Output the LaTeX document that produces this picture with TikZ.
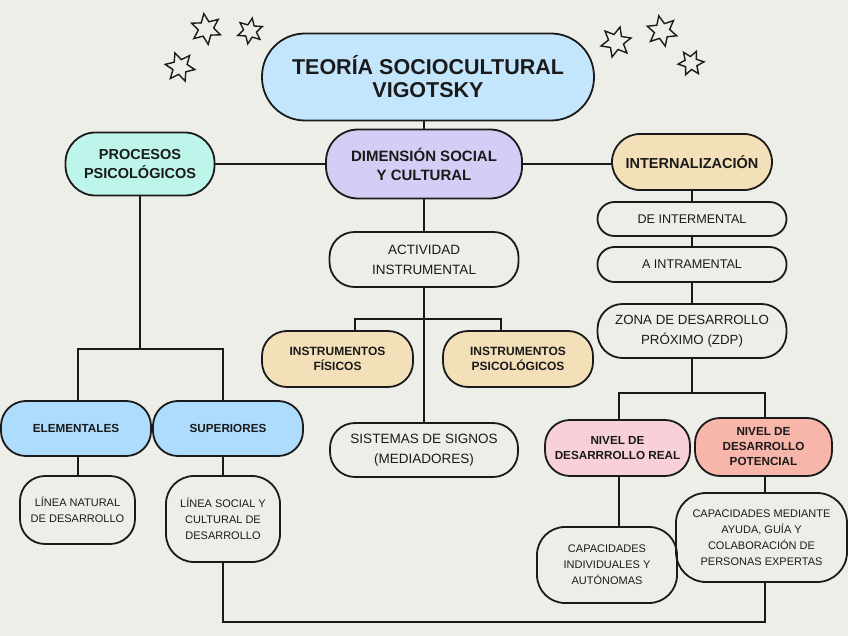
\documentclass[tikz,border=0pt]{standalone}
\usepackage{fontspec}
\setmainfont{Liberation Sans}
\usetikzlibrary{shapes.geometric}
\definecolor{bg}{HTML}{EEEEE9}
\definecolor{ink}{HTML}{1A1A1A}
\definecolor{ctitle}{HTML}{C4E6FC}
\definecolor{cmint}{HTML}{BEF5EA}
\definecolor{clav}{HTML}{D6CDF6}
\definecolor{cwheat}{HTML}{F3E0B8}
\definecolor{cblue}{HTML}{ADDCFC}
\definecolor{cpink}{HTML}{F8D1D8}
\definecolor{csalmon}{HTML}{F8B6AA}
\tikzset{
  box/.style={draw=ink, line width=1.8pt, align=center, inner sep=0pt, text=ink, rectangle},
  conn/.style={draw=ink, line width=2pt},
  starry/.style={star, star points=6, star point ratio=2.0, draw=ink, line width=1.4pt, inner sep=0pt},
  fbig/.style={font=\fontsize{21.5}{23}\selectfont\bfseries},
  fhead/.style={font=\fontsize{14.5}{19}\selectfont\bfseries},
  fsub/.style={font=\fontsize{12}{15}\selectfont\bfseries},
  freg/.style={font=\fontsize{13.5}{20}\selectfont},
  fsmall/.style={font=\fontsize{11}{16}\selectfont}
}
\begin{document}
\begin{tikzpicture}[x=1pt,y=-1pt]
\useasboundingbox (0,0) rectangle (848,636);
\fill[bg] (0,0) rectangle (848,636);

% stars
\node[starry, minimum size=31, rotate=8] (s1) at (206,29) {};
\node[starry, minimum size=26, rotate=-10] (s2) at (250,31) {};
\node[starry, minimum size=30, rotate=20] (s3) at (180,67) {};
\node[starry, minimum size=31, rotate=-15] (s4) at (616,42) {};
\node[starry, minimum size=31, rotate=12] (s5) at (662,31) {};
\node[starry, minimum size=26, rotate=-25] (s6) at (691,63) {};

% nodes
\node[box, fbig, fill=ctitle, minimum width=332, minimum height=87, rounded corners=43] (title) at (428,77) {TEORÍA SOCIOCULTURAL\\VIGOTSKY};
\node[box, fhead, fill=cmint, minimum width=149, minimum height=63, rounded corners=30] (proc) at (140,164) {PROCESOS\\PSICOLÓGICOS};
\node[box, font=\fontsize{15}{19}\selectfont\bfseries, fill=clav, minimum width=196, minimum height=69, rounded corners=32] (dim) at (424,164) {DIMENSIÓN SOCIAL\\Y CULTURAL};
\node[box, fhead, fill=cwheat, minimum width=160, minimum height=56, rounded corners=28] (intern) at (692,162) {INTERNALIZACIÓN};
\node[box, font=\fontsize{12.6}{15}\selectfont, minimum width=189, minimum height=34, rounded corners=17] (deinter) at (692,219) {DE INTERMENTAL};
\node[box, font=\fontsize{12.6}{15}\selectfont, minimum width=189, minimum height=35, rounded corners=17] (aintra) at (692,264.5) {A INTRAMENTAL};
\node[box, font=\fontsize{13.3}{20}\selectfont, minimum width=189, minimum height=54, rounded corners=25] (zdp) at (692,331) {ZONA DE DESARROLLO\\PRÓXIMO (ZDP)};
\node[box, freg, minimum width=189, minimum height=55, rounded corners=25] (act) at (424,259.5) {ACTIVIDAD\\INSTRUMENTAL};
\node[box, fsub, fill=cwheat, minimum width=151, minimum height=56, rounded corners=25] (fis) at (337.5,359) {INSTRUMENTOS\\FÍSICOS};
\node[box, fsub, fill=cwheat, minimum width=150, minimum height=56, rounded corners=25] (psi) at (518,359) {INSTRUMENTOS\\PSICOLÓGICOS};
\node[box, freg, minimum width=188, minimum height=54, rounded corners=25] (sis) at (424,450) {SISTEMAS DE SIGNOS\\(MEDIADORES)};
\node[box, font=\fontsize{11.7}{15}\selectfont\bfseries, fill=cblue, minimum width=150, minimum height=55, rounded corners=25] (elem) at (76,428.5) {ELEMENTALES};
\node[box, font=\fontsize{11.7}{15}\selectfont\bfseries, fill=cblue, minimum width=150, minimum height=55, rounded corners=25] (sup) at (228,428.5) {SUPERIORES};
\node[box, fsmall, minimum width=115, minimum height=68, rounded corners=25] (lnat) at (77.5,510) {LÍNEA NATURAL\\DE DESARROLLO};
\node[box, fsmall, minimum width=114, minimum height=86, rounded corners=28] (lsoc) at (223,519) {LÍNEA SOCIAL Y\\CULTURAL DE\\DESARROLLO};
\node[box, font=\fontsize{11.7}{15}\selectfont\bfseries, fill=cpink, minimum width=145, minimum height=56, rounded corners=25] (real) at (617.5,448) {NIVEL DE\\DESARRROLLO REAL};
\node[box, font=\fontsize{11.7}{15}\selectfont\bfseries, fill=csalmon, minimum width=137, minimum height=58, rounded corners=25] (pot) at (763.5,447) {NIVEL DE\\DESARROLLO\\POTENCIAL};
\node[box, fsmall, minimum width=140, minimum height=76, rounded corners=28] (capi) at (607,565) {CAPACIDADES\\INDIVIDUALES Y\\AUTÓNOMAS};
\node[box, fsmall, minimum width=171, minimum height=89, rounded corners=30] (capm) at (761.5,537.5) {CAPACIDADES MEDIANTE\\AYUDA, GUÍA Y\\COLABORACIÓN DE\\PERSONAS EXPERTAS};

% junction coordinates
\coordinate (lb1) at (78,349);
\coordinate (lb2) at (223,349);
\coordinate (mb1) at (355,319);
\coordinate (mb2) at (501,319);
\coordinate (rb1) at (619,393);
\coordinate (rb2) at (765,393);
\coordinate (bl) at (223,622);
\coordinate (br) at (765,622);

% connectors
\draw[conn] (dim.north |- title.south) -- (dim.north);
\draw[conn] (proc.east) -- (proc.east -| dim.west);
\draw[conn] (dim.east) -- (dim.east -| intern.west);
\draw[conn] (intern.south) -- (intern.south |- deinter.north);
\draw[conn] (deinter.south) -- (deinter.south |- aintra.north);
\draw[conn] (aintra.south) -- (aintra.south |- zdp.north);
\draw[conn] (zdp.south) -- (zdp.south |- rb1);
\draw[conn] (rb1 |- real.north) -- (rb1) -- (rb2) -- (rb2 |- pot.north);
\draw[conn] (rb1 |- real.south) -- (rb1 |- capi.north);
\draw[conn] (rb2 |- pot.south) -- (rb2 |- capm.north);
\draw[conn] (rb2 |- capm.south) -- (br) -- (bl) -- (lsoc.south);
\draw[conn] (dim.south) -- (dim.south |- act.north);
\draw[conn] (act.south) -- (act.south |- sis.north);
\draw[conn] (mb1 |- fis.north) -- (mb1) -- (mb2) -- (mb2 |- psi.north);
\draw[conn] (proc.south) -- (proc.south |- lb1);
\draw[conn] (lb1 |- elem.north) -- (lb1) -- (lb2) -- (lb2 |- sup.north);
\draw[conn] (lb1 |- elem.south) -- (lb1 |- lnat.north);
\draw[conn] (lb2 |- sup.south) -- (lb2 |- lsoc.north);
\end{tikzpicture}
\end{document}
